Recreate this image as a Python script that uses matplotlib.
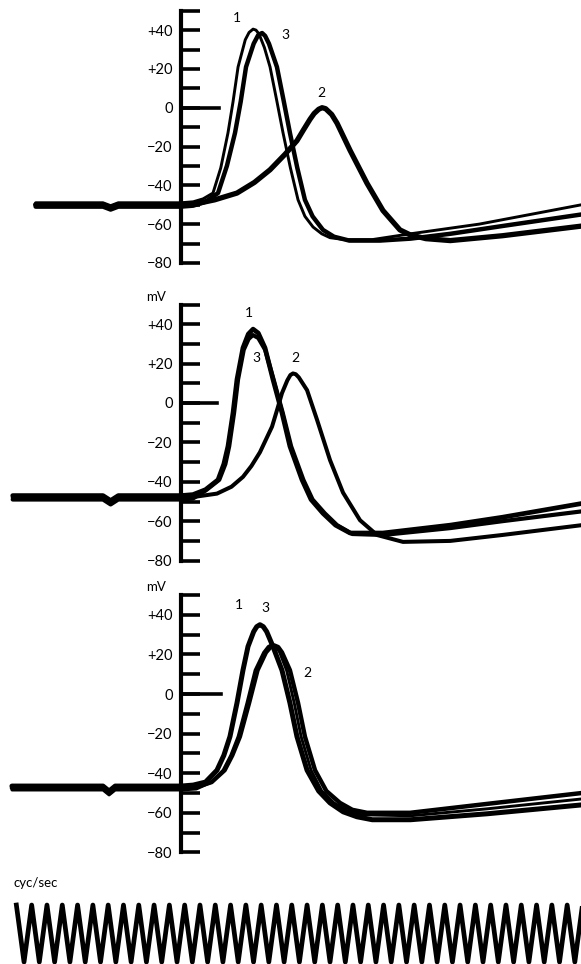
import matplotlib.pyplot as plt
import numpy as np

plt.rcParams['font.family'] = ['Lato', 'DejaVu Sans']

# time in ms (zero at the voltage scale), potential in mV
# --- top panel
p1_t1 = [-9.5, -5.1, -4.6, -4.1, 0, 0.8, 1.44, 2.09, 2.6, 3.07, 3.4, 3.73, 4.2, 4.45, 4.71, 4.9,
         5.1, 5.45, 5.82, 6.25, 6.67, 7.15, 7.65, 8.1, 8.63, 9.2, 9.74, 10.7, 12.5, 15, 19.5, 26.2]
p1_v1 = [-49, -49, -50.5, -49, -49, -48.5, -47, -44, -31, -13, 3, 21, 35, 38.8, 40.5, 40,
         38, 31, 21, 4, -13, -31, -47.5, -56, -61.5, -65, -67, -68, -68, -65, -60, -50]
p1_t3 = [-9.5, -5.1, -4.6, -4.1, 0, 0.8, 1.6, 2.42, 3.0, 3.53, 3.9, 4.25, 4.75, 5.05, 5.3, 5.5,
         5.75, 6.27, 6.7, 7.12, 7.6, 8.1, 8.6, 9.28, 10.0, 11.0, 13, 15, 17.6, 21, 26.2]
p1_v3 = [-51, -51, -52.5, -51, -51, -50.5, -48.5, -44, -30, -13, 3, 21, 33, 37.5, 38.5, 37,
         33, 21, 4, -13, -31, -47.5, -56, -63, -66.5, -68.5, -68.5, -67.5, -65, -61, -55]
p1_t2 = [-9.5, -5.1, -4.6, -4.1, 0, 1.0, 2.2, 3.66, 4.8, 5.82, 6.8, 7.58, 8.0, 8.43, 8.7, 9.0,
         9.22, 9.45, 9.85, 10.2, 11.05, 12.16, 13.2, 14.31, 14.97, 16, 17.6, 21, 26.2]
p1_v2 = [-50, -50, -51.5, -50, -50, -49.5, -47.5, -44, -38.5, -32, -24, -17, -11.5, -6, -3, -0.8,
         0, -0.5, -3.5, -8, -22, -39, -53, -63, -65.5, -67.5, -68.5, -66, -61]

# --- middle panel
p2_t1 = [-11.0, -5.1, -4.6, -4.1, 0, 0.78, 1.6, 2.42, 2.8, 3.07, 3.4, 3.66, 4.05, 4.4, 4.71,
         5.05, 5.49, 6.01, 6.6, 7.12, 7.91, 8.5, 9.28, 10.1, 11.05, 13.2, 17.6, 21, 26.2]
p2_v1 = [-47, -47, -49.5, -47, -47, -46.5, -44, -39, -31, -22, -5, 12, 28, 35, 37.5,
         35.5, 28, 12, -5, -22, -39, -49, -56, -62, -66, -66, -62, -58, -51]
p2_t3 = [-11.0, -5.1, -4.6, -4.1, 0, 0.78, 1.6, 2.5, 2.9, 3.15, 3.47, 3.73, 4.1, 4.42, 4.7,
         5.05, 5.5, 6.05, 6.65, 7.2, 8.0, 8.6, 9.4, 10.2, 11.2, 13.2, 17.6, 21, 26.2]
p2_v3 = [-49, -49, -51.5, -49, -49, -48.5, -44.5, -39, -31, -22, -5, 12, 27, 32.5, 34.5,
         33, 27, 12, -5, -22, -39, -49, -56, -62, -66.5, -67, -63.5, -60, -55]
p2_t2 = [-11.0, -5.1, -4.6, -4.1, 0, 1.0, 2.35, 3.3, 4.05, 4.6, 5.16, 5.95, 6.3, 6.6, 6.95,
         7.15, 7.32, 7.5, 7.7, 8.24, 8.89, 9.74, 10.59, 11.7, 12.81, 14.51, 17.6, 21, 26.2]
p2_v2 = [-48, -48, -50.5, -48, -48, -47.5, -46, -42.5, -37.5, -32, -25, -12, -3, 5, 11.5,
         14.2, 15, 14.6, 13, 6.5, -8.5, -29, -45.5, -59.5, -67, -70.5, -70, -67, -62]

# --- bottom panel
p3_t1 = [-11.05, -5.1, -4.7, -4.3, 0, 0.8, 1.6, 2.35, 2.8, 3.2, 3.66, 4.05, 4.38, 4.75, 4.95,
         5.16, 5.38, 5.6, 6.01, 6.6, 7.12, 7.58, 8.24, 9.0, 9.74, 10.6, 11.5, 12.5, 15, 20, 26.2]
p3_v1 = [-46.5, -46.5, -49, -46.5, -46.5, -46, -44.5, -38.5, -31, -21.5, -4.5, 12, 24, 31.5, 34,
         35, 34, 31.5, 24, 12, -4.5, -21.5, -38.5, -49, -55, -59.5, -62, -63.5, -63.5, -60.5, -56]
p3_t3 = [-11.05, -5.1, -4.7, -4.3, 0, 1.0, 2.0, 2.75, 3.25, 3.73, 4.31, 4.84, 5.4, 5.7, 5.95,
         6.2, 6.45, 6.9, 7.4, 7.85, 8.5, 9.2, 10.0, 10.9, 11.8, 15, 20, 26.2]
p3_v3 = [-48.5, -48.5, -51, -48.5, -48.5, -48, -44.5, -38.5, -31, -21.5, -4.5, 12, 21, 24, 25,
         24, 21, 12, -4.5, -21.5, -38.5, -49, -55, -59, -61, -61.5, -58, -53]
p3_t2 = [-11.05, -5.1, -4.7, -4.3, 0, 1.0, 2.0, 2.85, 3.35, 3.85, 4.45, 5.0, 5.55, 5.85, 6.1,
         6.35, 6.6, 7.12, 7.65, 8.1, 8.76, 9.5, 10.39, 11.2, 12.16, 14.97, 20, 26.2]
p3_v2 = [-47.5, -47.5, -50, -47.5, -47.5, -47, -44.5, -38.5, -31, -21.5, -4.5, 12, 21, 23.7, 24.5,
         23.7, 21, 12, -4.5, -21.5, -38.5, -49, -55, -58.5, -60, -60, -55.5, -50]

# curve number labels (t, mV, text)
p1_labels = [(3.66, 46.2, '1'), (6.8, 37.4, '3'), (9.15, 7.5, '2')]
p2_labels = [(4.44, 45.7, '1'), (4.9, 22.8, '3'), (7.45, 22.8, '2')]
p3_labels = [(3.79, 45.0, '1'), (5.49, 43.4, '3'), (8.24, 10.6, '2')]

# timing wave turning points
cal_peaks = [-10.76, -9.76, -8.76, -7.76, -6.76, -5.76, -4.76, -3.76, -2.76, -1.76, -0.76,
             0.24, 1.24, 2.24, 3.24, 4.24, 5.24, 6.24, 7.24, 8.24, 9.24, 10.24, 11.24, 12.24,
             13.24, 14.24, 15.24, 16.24, 17.24, 18.24, 19.24, 20.24, 21.24, 22.24, 23.24,
             24.24, 25.24, 26.24]
cal_troughs = [-10.26, -9.26, -8.26, -7.26, -6.26, -5.26, -4.26, -3.26, -2.26, -1.26, -0.26,
               0.74, 1.74, 2.74, 3.74, 4.74, 5.74, 6.74, 7.74, 8.74, 9.74, 10.74, 11.74, 12.74,
               13.74, 14.74, 15.74, 16.74, 17.74, 18.74, 19.74, 20.74, 21.74, 22.74, 23.74,
               24.74, 25.74]

major = [-80, -60, -40, -20, 0, 20, 40]
major_lbl = ['\u221280', '\u221260', '\u221240', '\u221220', '0', '+20', '+40']
minor = [-70, -50, -30, -10, 10, 30, 50]

W, H = 581, 964
PX_MS = 15.3
X0, X1 = -181 / PX_MS, (W - 181) / PX_MS

fig = plt.figure(figsize=(W / 100, H / 100), dpi=100)


def panel(top, bot, zero, ppm, zero_end):
    ax = fig.add_axes([0, 1 - bot / H, 1, (bot - top) / H])
    ax.set_xlim(X0, X1)
    ax.set_ylim(-(bot - zero) / ppm, (zero - top) / ppm)
    for s in ['top', 'right', 'bottom']:
        ax.spines[s].set_visible(False)
    ax.spines['left'].set_position(('data', 0))
    ax.spines['left'].set_bounds(-80, 50)
    ax.spines['left'].set_linewidth(3)
    ax.set_xticks([])
    ax.set_yticks(major)
    ax.set_yticklabels(major_lbl)
    ax.set_yticks(minor, minor=True)
    ax.tick_params(axis='y', which='both', direction='in', length=14, width=2.6,
                   pad=6, labelsize=10.5)
    ax.axhline(0, xmin=181 / W, xmax=zero_end / W, color='black', lw=2.6)
    ax.patch.set_visible(False)
    return ax


def trace(ax, t, v, lw):
    ax.plot(t, v, color='black', lw=lw, solid_joinstyle='round', solid_capstyle='round')


ax1 = panel(0, 280, 107.7, 1.94, 219)
trace(ax1, p1_t1, p1_v1, 2.1)
trace(ax1, p1_t3, p1_v3, 3.2)
trace(ax1, p1_t2, p1_v2, 3.8)
for t, v, s in p1_labels:
    ax1.text(t, v, s, fontsize=10, ha='center', va='center')

ax2 = panel(280, 570, 403, 1.97, 217)
trace(ax2, p2_t1, p2_v1, 3.4)
trace(ax2, p2_t3, p2_v3, 3.0)
trace(ax2, p2_t2, p2_v2, 2.9)
for t, v, s in p2_labels:
    ax2.text(t, v, s, fontsize=10, ha='center', va='center')
ax2.text(-1.63, 53.8, 'mV', fontsize=9.5, ha='center', va='center')

ax3 = panel(570, 870, 694, 1.98, 221)
trace(ax3, p3_t1, p3_v1, 3.6)
trace(ax3, p3_t3, p3_v3, 2.1)
trace(ax3, p3_t2, p3_v2, 3.2)
for t, v, s in p3_labels:
    ax3.text(t, v, s, fontsize=10, ha='center', va='center')
ax3.text(-1.63, 54.0, 'mV', fontsize=9.5, ha='center', va='center')

# timing wave
ax4 = fig.add_axes([0, 0, 1, 94 / H])
ax4.set_xlim(X0, X1)
ax4.set_ylim(-1.07, 2.23)
ax4.axis('off')
pts = sorted([(t, 1.0) for t in cal_peaks] + [(t, -1.0) for t in cal_troughs])
ax4.plot([p[0] for p in pts], [p[1] for p in pts], color='black', lw=3.4,
         solid_joinstyle='round')
fig.text(13 / W, 1 - 883 / H, 'cyc/sec', fontsize=9.5, va='center', ha='left')

fig.savefig('out.png', dpi=100)
